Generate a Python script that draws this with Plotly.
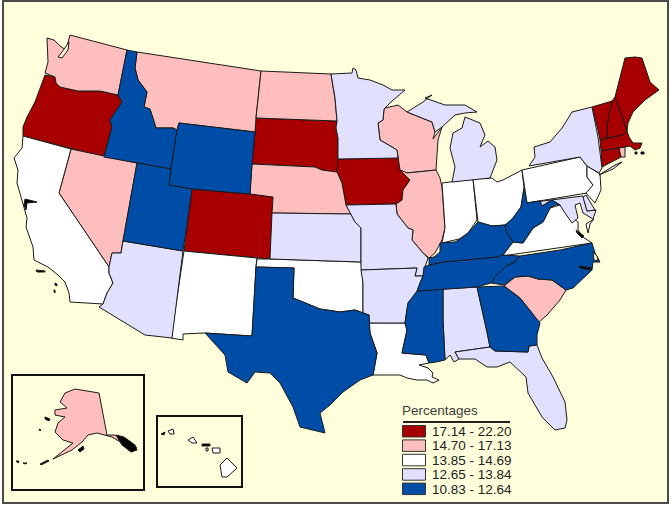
import plotly.graph_objects as go

# no topojson without network, so the state outlines are traced by eye from the picture
bin_labels = ['17.14 - 22.20', '14.70 - 17.13', '13.85 - 14.69', '12.65 - 13.84', '10.83 - 12.64']
bin_colors = ['#A80000', '#FFBEBE', '#FFFFFF', '#E1E1FF', '#004DA8']
background = '#FFFFDC'

bin_states = [
    ['OR', 'CO', 'SD', 'IA', 'ME', 'NH', 'VT', 'MA', 'CT', 'DC'],
    ['WA', 'MT', 'ND', 'NE', 'NV', 'WI', 'IL', 'SC', 'AK', 'RI'],
    ['CA', 'NM', 'OK', 'LA', 'IN', 'OH', 'PA', 'VA', 'NJ', 'HI', 'HI2', 'HI3', 'HI4', 'HI5', 'VA2'],
    ['MN', 'MI', 'MI2', 'NY', 'NY2', 'KS', 'MO', 'AR', 'AZ', 'AL', 'FL', 'MD', 'DE'],
    ['ID', 'WY', 'UT', 'TX', 'MS', 'TN', 'KY', 'WV', 'NC', 'GA'],
]

outlines = {
    'WA': [(47,38),(54,40),(60,46),(66,50),(70,35),(127,50),(118,95),(100,91),(78,91),(60,87),(56,83),(55,77),(45,73),(48,62)],
    'OR': [(45,75),(55,77),(56,83),(60,87),(78,91),(100,91),(118,95),(122,102),(110,120),(112,127),(104,157),(23,136),(23,127),(27,117),(35,102),(43,80)],
    'ID': [(127,50),(137,52),(135,68),(138,80),(147,92),(144,107),(150,109),(156,128),(173,128),(177,130),(171,169),(104,157),(112,127),(110,120),(122,102),(118,95)],
    'MT': [(137,52),(261,71),(256,118),(255,132),(179,123),(177,130),(173,128),(156,128),(150,109),(144,107),(147,92),(138,80),(135,68)],
    'ND': [(261,71),(331,74),(335,98),(337,121),(256,118)],
    'SD': [(256,118),(337,121),(336,128),(338,138),(338,160),(337,172),(333,172),(322,170),(315,167),(252,164),(255,132)],
    'WY': [(179,123),(255,132),(252,164),(250,194),(192,189),(169,185),(171,169),(177,130)],
    'NE': [(252,164),(315,167),(322,170),(333,172),(337,172),(342,183),(346,205),(351,214),(272,213),(273,197),(250,194)],
    'CO': [(192,189),(250,194),(273,197),(272,213),(271,240),(270,259),(184,251)],
    'UT': [(137,163),(171,169),(169,185),(192,189),(183,251),(123,241)],
    'NV': [(71,149),(137,163),(123,241),(121,253),(112,253),(109,267),(59,193)],
    'CA': [(23,136),(71,149),(59,193),(109,267),(109,273),(113,283),(107,293),(103,304),(70,302),(69,293),(65,282),(58,275),(48,267),(34,260),(33,247),(26,227),(27,218),(23,205),(17,183),(18,170),(14,158),(22,148)],
    'AZ': [(123,241),(183,251),(172,338),(145,335),(99,307),(103,304),(107,293),(113,283),(109,273),(109,267),(112,253),(121,253)],
    'NM': [(184,251),(257,258),(256,267),(252,336),(204,333),(183,334),(183,340),(171,338)],
    'OK': [(257,259),(270,259),(361,262),(363,283),(363,313),(355,310),(340,312),(320,309),(303,302),(293,298),(294,268),(256,267)],
    'TX': [(256,267),(294,268),(293,298),(303,302),(320,309),(340,312),(355,310),(369,315),(370,333),(377,353),(373,375),(360,380),(343,392),(330,405),(320,413),(325,433),(300,427),(293,407),(280,383),(270,373),(255,372),(247,383),(228,372),(225,355),(205,333),(252,336)],
    'KS': [(272,213),(351,214),(355,222),(361,228),(361,262),(270,259)],
    'MO': [(346,205),(396,204),(397,214),(408,228),(413,230),(412,240),(423,253),(428,258),(425,267),(423,276),(415,276),(417,268),(361,270),(361,228),(355,222),(351,214)],
    'AR': [(361,270),(417,268),(415,276),(423,276),(420,283),(417,292),(408,303),(405,323),(369,323),(369,315),(363,313),(363,283)],
    'LA': [(369,323),(405,323),(407,330),(402,353),(426,355),(429,363),(419,365),(428,368),(433,373),(432,377),(439,380),(433,383),(427,380),(417,380),(407,378),(400,375),(383,375),(373,375),(377,353),(370,333)],
    'MS': [(417,291),(443,289),(443,320),(445,360),(436,362),(429,363),(426,355),(402,353),(407,330),(405,323),(408,303)],
    'TN': [(424,267),(429,265),(443,262),(497,257),(503,255),(520,256),(515,262),(505,267),(495,277),(491,283),(477,287),(443,289),(417,291),(420,283),(423,276)],
    'KY': [(429,265),(429,258),(434,257),(440,252),(440,243),(455,242),(462,238),(468,233),(478,222),(492,226),(505,225),(507,233),(513,242),(503,255),(497,257),(443,262)],
    'WV': [(524,188),(527,203),(540,201),(542,206),(552,200),(560,205),(555,205),(550,208),(543,222),(533,228),(523,243),(513,242),(507,233),(505,226),(513,218),(521,207)],
    'VA': [(550,208),(560,205),(568,215),(578,222),(578,230),(583,237),(592,243),(502,256),(513,242),(523,243),(533,228),(543,222)],
    'VA2': [(594,219),(590,224),(588,233),(586,224)],
    'NC': [(592,243),(595,253),(600,262),(593,262),(592,270),(573,288),(566,290),(552,280),(538,279),(528,276),(515,277),(504,285),(491,283),(495,277),(505,267),(515,262),(520,256),(560,250)],
    'SC': [(504,286),(515,277),(528,276),(538,279),(552,280),(566,290),(560,300),(547,315),(538,323),(532,313),(520,298)],
    'GA': [(477,287),(504,286),(520,298),(532,313),(540,323),(537,335),(537,345),(529,346),(528,352),(495,351),(490,347),(487,332)],
    'AL': [(443,289),(477,287),(487,332),(490,347),(455,352),(459,359),(454,362),(450,355),(445,360),(443,320)],
    'FL': [(455,352),(490,347),(495,351),(528,352),(529,346),(537,345),(542,358),(553,377),(565,402),(567,420),(565,428),(555,430),(542,417),(528,393),(526,377),(510,362),(497,367),(487,367),(475,359),(459,359)],
    'IA': [(338,159),(398,158),(400,170),(410,180),(403,190),(402,200),(396,204),(346,205),(342,183),(337,172),(338,160)],
    'MN': [(331,74),(352,73),(353,68),(356,70),(358,78),(370,80),(383,85),(392,90),(405,90),(392,101),(384,109),(383,120),(378,123),(380,140),(397,150),(398,158),(338,159),(338,138),(336,128),(337,121),(335,98)],
    'WI': [(385,108),(398,105),(407,112),(432,122),(435,132),(433,139),(442,127),(438,140),(436,170),(407,173),(400,170),(398,158),(397,150),(380,140),(378,123),(383,120),(384,109)],
    'IL': [(407,173),(436,170),(440,178),(442,187),(445,228),(442,240),(435,253),(429,258),(423,253),(412,240),(413,230),(408,228),(397,214),(396,204),(402,200),(403,190),(410,180),(400,170)],
    'IN': [(442,183),(451,182),(473,179),(477,220),(468,233),(459,239),(442,243),(445,228)],
    'OH': [(473,179),(492,178),(497,182),(503,180),(522,170),(524,188),(521,207),(513,218),(505,225),(492,226),(478,222)],
    'MI': [(465,117),(480,123),(485,135),(480,147),(488,141),(495,147),(497,160),(490,178),(452,182),(455,167),(450,148),(453,133),(462,128)],
    'MI2': [(407,112),(423,102),(432,95),(425,98),(445,105),(465,105),(477,112),(465,113),(455,115),(442,127),(435,132),(432,122)],
    'PA': [(522,170),(580,157),(587,166),(587,177),(593,185),(587,193),(527,203)],
    'NY': [(529,166),(535,157),(534,147),(550,142),(562,128),(572,112),(592,107),(598,137),(602,168),(599,173),(587,166),(580,157)],
    'NY2': [(599,175),(615,165),(622,162),(613,169)],
    'VT': [(592,107),(612,101),(607,125),(607,138),(600,140),(598,130)],
    'NH': [(612,101),(615,97),(622,117),(627,131),(623,135),(607,138),(607,125)],
    'ME': [(615,97),(622,70),(625,58),(635,57),(642,58),(650,82),(659,90),(645,100),(633,112),(628,123),(627,131),(622,117)],
    'MA': [(600,140),(623,135),(627,131),(629,137),(633,143),(642,143),(640,148),(635,150),(630,146),(625,147),(601,151)],
    'CT': [(601,151),(619,148),(621,157),(602,167)],
    'RI': [(619,148),(625,147),(625,157),(621,157)],
    'NJ': [(587,166),(600,174),(601,190),(595,203),(586,193),(593,185),(587,177)],
    'DE': [(586,195),(595,210),(587,211),(583,197)],
    'MD': [(527,203),(583,196),(587,211),(596,210),(593,219),(583,213),(580,203),(575,205),(578,218),(572,223),(565,213),(560,205),(552,200),(542,206),(540,201)],
    'DC': [(571,205),(575,209),(571,213),(567,209)],
    'AK': [(75,389),(99,393),(107,435),(115,435),(123,440),(137,448),(132,452),(122,443),(112,437),(97,433),(88,435),(82,442),(72,450),(53,459),(68,447),(73,443),(63,440),(55,432),(58,423),(65,417),(55,415),(55,410),(67,408),(60,402),(65,393)],
    'HI': [(220,465),(227,458),(237,468),(227,477),(222,477)],
    'HI2': [(212,448),(220,448),(220,453),(213,453)],
    'HI3': [(188,440),(193,437),(197,443),(192,443)],
    'HI4': [(168,431),(173,429),(174,434),(170,434)],
    'HI5': [(206,448),(208,448),(208,451),(206,451)],
}

# bits of coast too small to carry a fill of their own
water_bits = [
    [(62,52),(66,46),(69,42),(68,50),(62,58),(58,57)],
    [(593,252),(597,256),(598,261),(594,260)],
]
black_bits = [
    [(116,435),(124,437),(135,445),(137,450),(131,452),(122,445)],
    [(25,199),(37,202),(27,203),(26,210),(24,205)],
    [(36,270),(45,271),(45,272),(37,272)],
    [(55,283),(57,284),(57,286),(55,285)],
    [(54,290),(55,290),(55,293),(54,292)],
    [(45,417),(50,419),(49,421),(45,419)],
    [(39,429),(41,430),(40,431)],
    [(16,461),(19,461),(18,463)],
    [(23,463),(27,463),(25,464)],
    [(40,464),(48,460),(49,461),(41,465)],
    [(78,450),(83,446),(84,449),(80,452)],
    [(161,434),(165,432),(164,435)],
    [(202,444),(210,444),(210,446),(202,446)],
    [(635,152),(637,152),(637,154),(635,154)],
    [(641,152),(644,152),(644,154),(641,154)],
    [(576,230),(584,236),(582,238),(577,233)],
    [(579,266),(592,268),(590,270),(580,268)],
]


def polygon(points, fill):
    xs = [p[0] for p in points] + [points[0][0]]
    ys = [p[1] for p in points] + [points[0][1]]
    return go.Scatter(x=xs, y=ys, mode='lines', fill='toself', fillcolor=fill,
                      line=dict(color='#1A1A1A', width=1), hoverinfo='skip', showlegend=False)


fig = go.Figure()

for states, color in zip(bin_states, bin_colors):
    for state in states:
        fig.add_trace(polygon(outlines[state], color))

for bit in water_bits:
    fig.add_trace(polygon(bit, background))
for bit in black_bits:
    fig.add_trace(polygon(bit, '#000000'))

# frame and the two inset boxes
fig.add_shape(type='rect', x0=3, y0=1, x1=668, y1=503, layer='below',
              fillcolor=background, line=dict(color='#4A4A4A', width=2))
fig.add_shape(type='rect', x0=12, y0=375, x1=144, y1=490, line=dict(color='#111111', width=2))
fig.add_shape(type='rect', x0=157, y0=416, x1=242, y1=487, line=dict(color='#111111', width=2))

# legend
fig.add_annotation(x=400, y=410, text='Percentages', showarrow=False, xanchor='left', yanchor='middle',
                   font=dict(family='Liberation Sans', size=13.5, color='#3C3C3C'))
fig.add_shape(type='line', x0=403, y0=422, x1=510, y1=422, line=dict(color='#222222', width=2))
for i, (label, color) in enumerate(zip(bin_labels, bin_colors)):
    top = 425.5 + i * 14.4
    fig.add_shape(type='rect', x0=402.5, y0=top, x1=425.5, y1=top + 11.5, fillcolor=color,
                  line=dict(color='#333333', width=1))
    fig.add_annotation(x=429.5, y=top + 6, text=label, showarrow=False, xanchor='left', yanchor='middle',
                       font=dict(family='Liberation Sans', size=13.5, color='#222222'))

fig.update_xaxes(range=[0, 672], visible=False, fixedrange=True)
fig.update_yaxes(range=[508, 0], visible=False, fixedrange=True)
fig.update_layout(width=672, height=508, margin=dict(l=0, r=0, t=0, b=0),
                  paper_bgcolor='white', plot_bgcolor='white', showlegend=False)

# the page's default body margin would push the chart 8px off
fig.write_html("out.html", post_script="document.body.style.margin='0';",
               config=dict(displayModeBar=False))
